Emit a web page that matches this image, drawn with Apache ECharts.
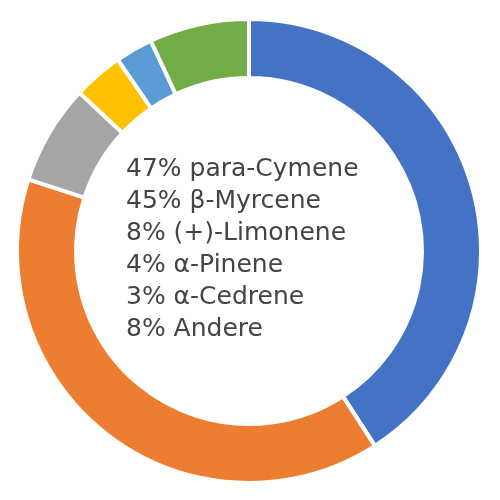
<!DOCTYPE html>
<html><head><meta charset="utf-8">
<script src="https://cdn.jsdelivr.net/npm/echarts@6/dist/echarts.min.js"></script>
<style>html,body{margin:0;padding:0;background:#fff}#c{width:500px;height:500px}</style>
</head><body><div id="c"></div>
<script>
var names = ['para-Cymene', 'β-Myrcene', '(+)-Limonene', 'α-Pinene', 'α-Cedrene', 'Andere'];
var values = [47, 45, 8, 4, 3, 8];
var colors = ['#4472C4', '#ED7D31', '#A5A5A5', '#FFC000', '#5B9BD5', '#70AD47'];

var chart = echarts.init(document.getElementById('c'), null, {renderer: 'canvas'});
var lines = names.map(function (n, i) { return values[i] + '% ' + n; }).join('\n');
chart.setOption({
  animation: false,
  series: [{
    type: 'pie',
    center: [249, 251],
    radius: [173, 232],
    startAngle: 90,
    clockwise: true,
    label: {show: false},
    labelLine: {show: false},
    itemStyle: {borderColor: '#fff', borderWidth: 4},
    data: names.map(function (n, i) {
      return {name: n, value: values[i], itemStyle: {color: colors[i]}};
    })
  }],
  graphic: [{
    type: 'text',
    left: 126,
    top: 153,
    style: {
      text: lines,
      font: '25px "DejaVu Sans", sans-serif',
      lineHeight: 32,
      fill: '#444444'
    }
  }]
});
</script></body></html>
